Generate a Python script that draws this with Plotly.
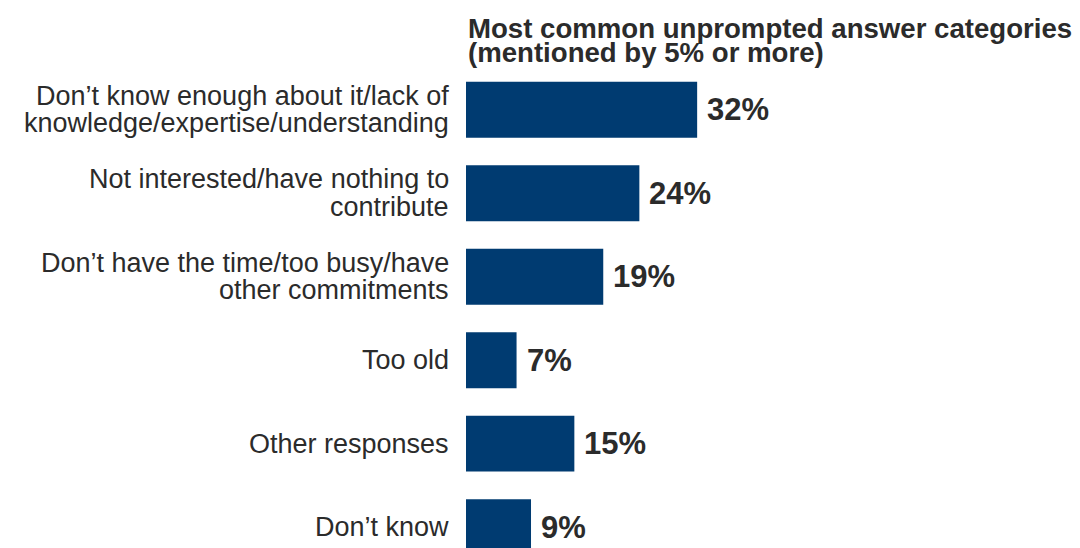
import plotly.graph_objects as go

categories = [
    "Don’t know enough about it/lack of<br>knowledge/expertise/understanding",
    "Not interested/have nothing to<br>contribute",
    "Don’t have the time/too busy/have<br>other commitments",
    "Too old",
    "Other responses",
    "Don’t know",
]
values = [32, 24, 19, 7, 15, 9]
labels = ["32%", "24%", "19%", "7%", "15%", "9%"]
title_lines = [
    "Most common unprompted answer categories",
    "(mentioned by 5% or more)",
]

bar_color = "#003b71"
text_color = "#2b2b2b"
font_family = "Liberation Sans, Arial, sans-serif"

fig = go.Figure(
    go.Bar(
        x=values,
        y=categories,
        orientation="h",
        marker=dict(color=bar_color, line=dict(width=0)),
        width=0.67,
        hoverinfo="skip",
    )
)

# value labels to the right of each bar
for cat, val, lab in zip(categories, values, labels):
    fig.add_annotation(
        x=val,
        y=cat,
        text=f"<b>{lab}</b>",
        showarrow=False,
        xanchor="left",
        xshift=8,
        font=dict(size=31, color=text_color, family=font_family),
    )

# category labels, one annotation per line to get the tight line spacing
for cat in categories:
    lines = cat.split("<br>")
    n = len(lines)
    for i, line in enumerate(lines):
        fig.add_annotation(
            x=0,
            xref="paper",
            y=cat,
            text=line,
            showarrow=False,
            xanchor="right",
            xshift=-15,
            yshift=-(i - (n - 1) / 2) * 27.5,
            font=dict(size=27, color=text_color, family=font_family),
        )

# title, left aligned above the bars
for i, line in enumerate(title_lines):
    fig.add_annotation(
        x=0,
        xref="paper",
        y=1,
        yref="paper",
        text=f"<b>{line}</b>",
        showarrow=False,
        xanchor="left",
        yanchor="middle",
        xshift=0,
        yshift=40 - i * 24,
        font=dict(size=27.6, color=text_color, family=font_family),
    )

# page body has an 8px margin, so the plot area is offset by that much
fig.update_layout(
    width=1080,
    height=548,
    margin=dict(l=458, r=8, t=60, b=8, autoexpand=False),
    plot_bgcolor="white",
    paper_bgcolor="white",
    showlegend=False,
    font=dict(family=font_family, color=text_color),
    xaxis=dict(
        range=[0, 85],
        visible=False,
        fixedrange=True,
    ),
    yaxis=dict(
        range=[5.25, -0.5],
        showgrid=False,
        zeroline=False,
        showline=False,
        showticklabels=False,
        ticks="",
        automargin=False,
        fixedrange=True,
    ),
)

fig.write_html("out.html")
